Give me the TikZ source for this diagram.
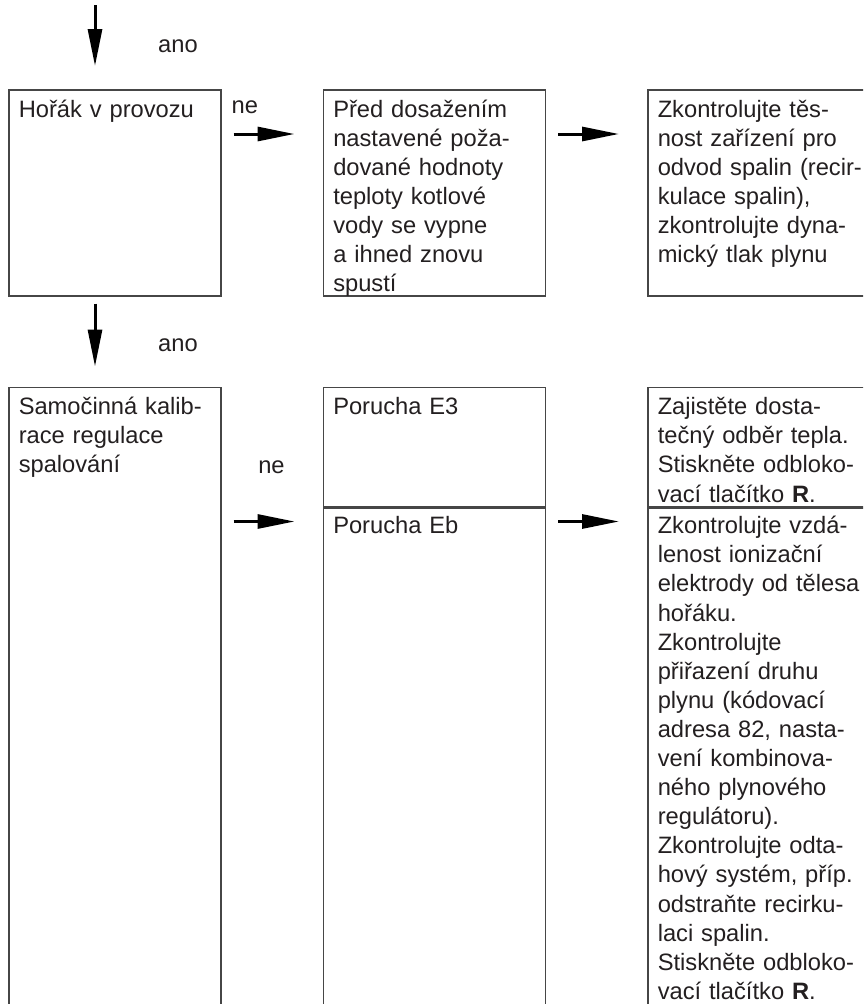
\documentclass[tikz,border=0pt]{standalone}
\usepackage{fontspec}
\setmainfont{Liberation Sans}
\usetikzlibrary{arrows.meta, positioning, calc}
\definecolor{framegray}{RGB}{70, 70, 70}
\definecolor{inkgray}{RGB}{35, 31, 32}
\newcommand{\boxlines}[1]{\begin{tabular}[t]{@{}l@{}}#1\end{tabular}}

\begin{document}
\begin{tikzpicture}[
        x=1pt, y=-1pt,
        node distance=90pt and 101pt,
        panel/.style={rectangle, draw=framegray, line width=1.5pt, anchor=north west, inner xsep=10pt, inner ysep=0pt, text height=27.5pt, align=left, text=inkgray, font=\fontsize{23.7}{29.1}\selectfont},
        lbl/.style={inner sep=0pt, text=inkgray, font=\fontsize{23.7}{29.1}\selectfont},
        flow/.style={-{Triangle[length=37pt, width=14pt]}, line width=3pt, draw=black}
    ]
    \clip (0,0) rectangle (863,1004);

    % first row
    \node[panel, text width=192pt, text depth=178.5pt] (hor) at (8,89) {\boxlines{Hořák v provozu}};
    \node[panel, text width=202pt, text depth=178.5pt, right=of hor] (pred) {\boxlines{Před dosažením\\nastavené poža-\\dované hodnoty\\teploty kotlové\\vody se vypne\\a ihned znovu\\spustí}};
    \node[panel, text width=198pt, text depth=178.5pt, right=of pred] (ctl) {\boxlines{Zkontrolujte těs-\\nost zařízení pro\\odvod spalin (recir-\\kulace spalin),\\zkontrolujte dyna-\\mický tlak plynu}};

    % second row
    \node[panel, text width=192pt, text depth=607.5pt, below=of hor] (sam) {\boxlines{Samočinná kalib-\\race regulace\\spalování}};
    \node[panel, text width=202pt, text depth=91.5pt, right=of sam.north east, anchor=north west] (e3) {\boxlines{Porucha E3}};
    \node[panel, text width=202pt, text height=26pt, text depth=490pt, below=0pt of e3] (eb) {\boxlines{Porucha Eb}};
    \node[panel, text width=198pt, text depth=91.5pt, right=of e3] (zaj) {\boxlines{Zajistěte dosta-\\tečný odběr tepla.\\Stiskněte odbloko-\\vací tlačítko \textbf{R}.}};
    \node[panel, text width=198pt, text height=26pt, text depth=490pt, right=of eb] (zk) {\boxlines{Zkontrolujte vzdá-\\lenost ionizační\\elektrody od tělesa\\hořáku.\\Zkontrolujte\\přiřazení druhu\\plynu (kódovací\\adresa 82, nasta-\\vení kombinova-\\ného plynového\\regulátoru).\\Zkontrolujte odta-\\hový systém, příp.\\odstraňte recirku-\\laci spalin.\\Stiskněte odbloko-\\vací tlačítko \textbf{R}.}};

    % arrows
    \coordinate (entry) at (95,5);
    \draw[flow, shorten >=23pt] (entry) -- (entry |- hor.north);
    \draw[flow, shorten <=12pt, shorten >=28pt] ($(hor.north east)+(0,45)$) -- ($(pred.north west)+(0,45)$);
    \draw[flow, shorten <=12pt, shorten >=28pt] ($(pred.north east)+(0,45)$) -- ($(ctl.north west)+(0,45)$);
    \draw[flow, shorten <=7pt, shorten >=20pt] (entry |- hor.south) -- (entry |- sam.north);
    \draw[flow, shorten <=12pt, shorten >=28pt] ($(sam.north east)+(0,135)$) -- ($(e3.north west)+(0,135)$);
    \draw[flow, shorten <=12pt, shorten >=28pt] ($(e3.north east)+(0,135)$) -- ($(zaj.north west)+(0,135)$);

    % labels
    \node[lbl, anchor=base west] (ano1) at ($(entry)+(63,47)$) {ano};
    \node[lbl, anchor=base west] (ne1) at ($(hor.north east)+(10,24)$) {ne};
    \node[lbl, anchor=base west] (ano2) at ($(entry |- hor.south)+(63,55)$) {ano};
    \node[lbl, anchor=base] (ne2) at ($(sam.north east)+(50,87)$) {ne};
\end{tikzpicture}
\end{document}
